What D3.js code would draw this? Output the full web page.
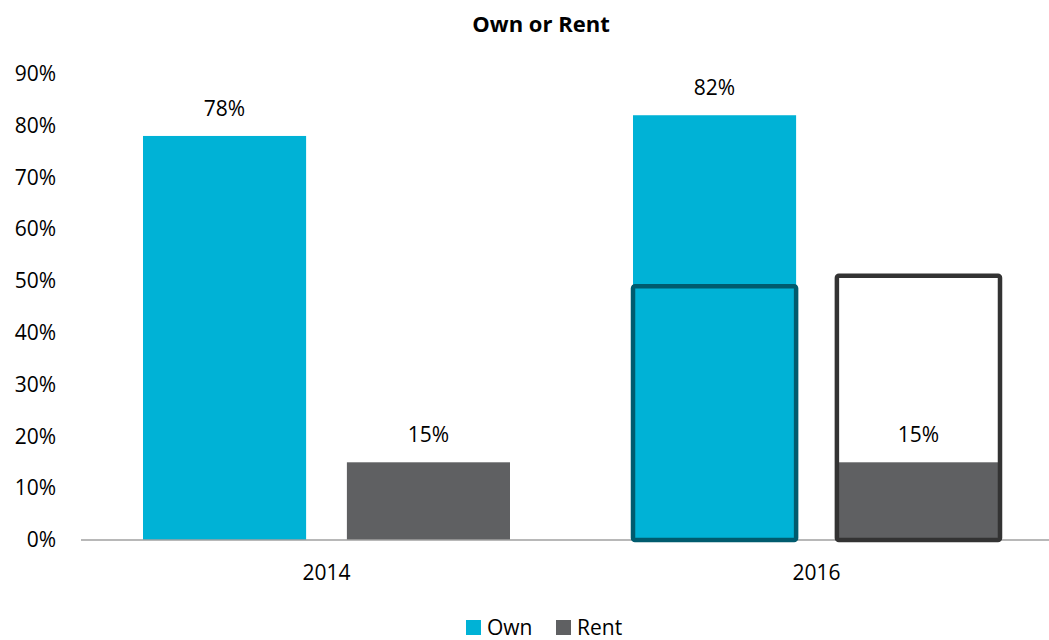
<!DOCTYPE html>
<html lang="en">
	<head>
		<meta charset="utf-8">
		<title>Own or Rent</title>
		<script type="text/javascript" src="https://d3js.org/d3.v7.min.js"></script>
		<style type="text/css">
            body{margin:0;background:#fff;font-family:"Open Sans","Noto Sans",sans-serif;}
            #chart1 text{fill:#000;}
		</style>
	</head>
	<body>
    <div id="chart1"></div>
		<script type="text/javascript">
            // values
            var years = ["2014", "2016"]
            var series = ["Own", "Rent"]
            var own = [0.78, 0.82]
            var rent = [0.15, 0.15]
            var yTicks = [0, 0.1, 0.2, 0.3, 0.4, 0.5, 0.6, 0.7, 0.8, 0.9]
            // outlined boxes drawn over the 2016 bars
            var boxYear = "2016"
            var boxSeries = ["Own", "Rent"]
            var boxValues = [0.49, 0.51]

            var colors = {Own: "#00b2d6", Rent: "#5f6062"}
            var boxStroke = {Own: "#005b6e", Rent: "#333333"}
            var boxFill = {Own: "none", Rent: "#ffffff"}

            var w = 1049
            var h = 640

            var data = []
            years.forEach(function(y, i){
                data.push({year: y, series: "Own", value: own[i]})
                data.push({year: y, series: "Rent", value: rent[i]})
            })

            var svg = d3.select("#chart1").append("svg")
                        .attr("width", w)
                        .attr("height", h)

            var xScale = d3.scaleBand().domain(years).range([81.5, 1061.5])
            var sub = d3.scaleBand().domain(series).range([61.5, 428.5]).paddingInner(0.2)
            var yScale = d3.scaleLinear().domain([0, 0.9]).range([540, 73.8])
            var fmt = d3.format(".0%")

            // title
            svg.append("text")
                .attr("x", 541)
                .attr("y", 32)
                .attr("text-anchor", "middle")
                .style("font-size", "22px")
                .style("font-weight", "bold")
                .text("Own or Rent")

            // y axis: labels only
            var yAxis = d3.axisLeft(yScale).tickValues(yTicks).tickFormat(fmt).tickSize(0).tickPadding(0)
            var gy = svg.append("g").attr("transform", "translate(56,0)").call(yAxis)
            gy.select(".domain").remove()
            gy.selectAll("text").style("font-size", "21px").style("font-family", "'Open Sans','Noto Sans',sans-serif")

            // bars (white-filled box goes under the rent bar)
            var boxes = boxSeries.map(function(s, i){ return {year: boxYear, series: s, value: boxValues[i]} })

            svg.selectAll("rect.box-bg")
                .data(boxes.filter(function(d){ return boxFill[d.series] != "none" }))
                .enter().append("rect")
                .attr("class", "box-bg")
                .attr("x", function(d){ return xScale(d.year) + sub(d.series) })
                .attr("y", function(d){ return yScale(d.value) })
                .attr("width", sub.bandwidth())
                .attr("height", function(d){ return yScale(0) - yScale(d.value) })
                .attr("fill", function(d){ return boxFill[d.series] })

            svg.selectAll("rect.bar")
                .data(data)
                .enter().append("rect")
                .attr("class", "bar")
                .attr("x", function(d){ return xScale(d.year) + sub(d.series) })
                .attr("y", function(d){ return yScale(d.value) })
                .attr("width", sub.bandwidth())
                .attr("height", function(d){ return yScale(0) - yScale(d.value) })
                .attr("fill", function(d){ return colors[d.series] })

            // x axis line
            svg.append("line")
                .attr("x1", 81).attr("x2", w)
                .attr("y1", yScale(0)).attr("y2", yScale(0))
                .attr("stroke", "#a0a0a0")
                .attr("stroke-width", 1.5)

            // outline boxes
            svg.selectAll("rect.box")
                .data(boxes)
                .enter().append("rect")
                .attr("class", "box")
                .attr("x", function(d){ return xScale(d.year) + sub(d.series) })
                .attr("y", function(d){ return yScale(d.value) })
                .attr("width", sub.bandwidth())
                .attr("height", function(d){ return yScale(0) - yScale(d.value) })
                .attr("rx", 2)
                .attr("fill", "none")
                .attr("stroke", function(d){ return boxStroke[d.series] })
                .attr("stroke-width", 4.5)

            // value labels
            svg.selectAll("text.lbl")
                .data(data)
                .enter().append("text")
                .attr("class", "lbl")
                .attr("x", function(d){ return xScale(d.year) + sub(d.series) + sub.bandwidth() / 2 })
                .attr("y", function(d){ return yScale(d.value) - 20 })
                .attr("text-anchor", "middle")
                .style("font-size", "21px")
                .text(function(d){ return fmt(d.value) })

            // x labels
            var xAxis = d3.axisBottom(xScale).tickSize(0).tickPadding(0)
            var gx = svg.append("g").attr("transform", "translate(0,565)").call(xAxis)
            gx.select(".domain").remove()
            gx.selectAll("text").style("font-size", "21px").style("font-family", "'Open Sans','Noto Sans',sans-serif")

            // legend
            var legX = [466, 556]
            var leg = svg.selectAll("g.leg")
                .data(series)
                .enter().append("g")
                .attr("class", "leg")
                .attr("transform", function(d, i){ return "translate(" + legX[i] + ",620)" })
            leg.append("rect")
                .attr("width", 15).attr("height", 15)
                .attr("fill", function(d){ return colors[d] })
            leg.append("text")
                .attr("x", 21)
                .attr("y", 15)
                .style("font-size", "21px")
                .text(function(d){ return d })
        </script>
	</body>
</html>
